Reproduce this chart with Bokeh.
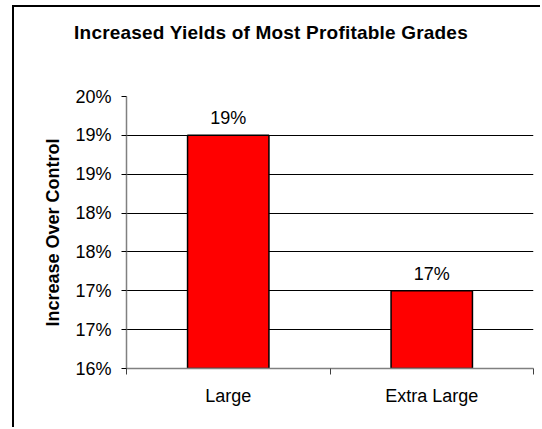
from bokeh.plotting import figure
from bokeh.models import Range1d, FixedTicker, ColumnDataSource, Div
from bokeh.layouts import column
from bokeh.core.properties import value
from bokeh.embed import file_html
from bokeh.resources import INLINE

# ---- data ----
categories = ["Large", "Extra Large"]
increase_pct = [19.0, 17.0]
bar_labels = ["19%", "17%"]
y_ticks = [16, 16.5, 17, 17.5, 18, 18.5, 19, 19.5]
y_tick_labels = ["16%", "17%", "17%", "18%", "18%", "19%", "19%", "20%"]
title_text = "Increased Yields of Most Profitable Grades"
y_axis_title = "Increase Over Control"

FONT = "Liberation Sans"

x_pos = [i + 0.5 for i in range(len(categories))]
src = ColumnDataSource(dict(x=x_pos, top=increase_pct, label=bar_labels))

title_div = Div(
    text=(f'<div style="width:514px;text-align:center;padding-top:15px;'
          f'font-family:\'{FONT}\';font-size:19px;font-weight:bold;color:#000000;'
          f'letter-spacing:0.2px;line-height:1.15;">{title_text}</div>'),
    width=526, height=40, margin=0)

p = figure(width=526, height=380, output_backend="svg", toolbar_location=None,
           x_range=Range1d(0, len(categories)), y_range=Range1d(y_ticks[0], y_ticks[-1]),
           min_border_left=112, min_border_right=7, min_border_top=49, min_border_bottom=59)
p.outline_line_color = None
p.background_fill_color = "white"
p.border_fill_color = "white"

p.vbar(x="x", top="top", bottom=y_ticks[0], width=0.4, source=src,
       fill_color="#FF0000", line_color="#000000", line_width=1.5)
p.text(x="x", y="top", text="label", source=src, text_align="center",
       text_baseline="alphabetic", y_offset=-17, text_font=value(FONT),
       text_font_size="18px", text_color="#000000")

# y axis
ya = p.yaxis[0]
ya.ticker = FixedTicker(ticks=y_ticks, minor_ticks=[])
ya.major_label_overrides = {t: l for t, l in zip(y_ticks, y_tick_labels)}
ya.major_label_text_font = FONT
ya.major_label_text_font_size = "18px"
ya.major_label_text_color = "#000000"
ya.major_label_standoff = 10
ya.axis_line_color = "#808080"
ya.axis_line_width = 1.5
ya.major_tick_line_color = "#000000"
ya.major_tick_out = 5
ya.major_tick_in = 0
ya.minor_tick_line_color = None
ya.axis_label = y_axis_title
ya.axis_label_text_font = FONT
ya.axis_label_text_font_size = "18px"
ya.axis_label_text_font_style = "bold"
ya.axis_label_text_color = "#000000"
ya.axis_label_standoff = 9

# x axis
xa = p.xaxis[0]
xa.ticker = FixedTicker(ticks=x_pos, minor_ticks=list(range(len(categories) + 1)))
xa.major_label_overrides = {x: c for x, c in zip(x_pos, categories)}
xa.major_label_text_font = FONT
xa.major_label_text_font_size = "18px"
xa.major_label_text_color = "#000000"
xa.major_label_standoff = 11
xa.axis_line_color = "#808080"
xa.axis_line_width = 1.5
xa.major_tick_line_color = None
xa.major_tick_out = 0
xa.major_tick_in = 0
xa.minor_tick_line_color = "#404040"
xa.minor_tick_out = 6
xa.minor_tick_in = 0

p.xgrid.grid_line_color = None
p.ygrid.ticker = FixedTicker(ticks=y_ticks)
p.ygrid.grid_line_color = "#000000"
p.ygrid.grid_line_width = 1

layout = column(title_div, p, spacing=0)
layout.styles = {"margin-left": "12px", "margin-top": "5px", "background-color": "white",
                 "border-left": "2px solid #000000", "border-top": "2px solid #000000"}

open("out.html", "w").write(file_html(layout, INLINE))
